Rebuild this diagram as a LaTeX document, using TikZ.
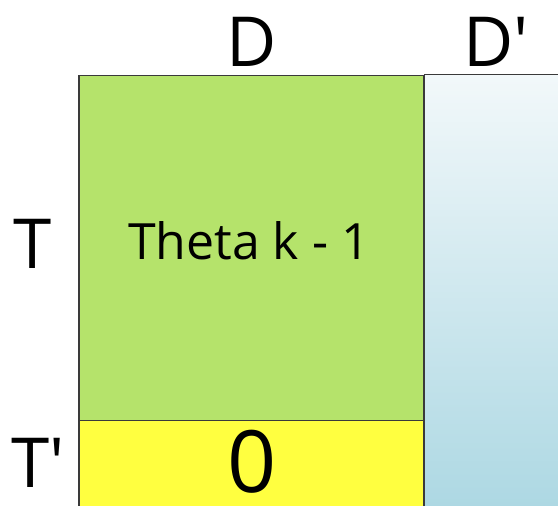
\documentclass[tikz,border=0pt]{standalone}
\usepackage{fontspec}
\setmainfont{Open Sans}
\definecolor{gfill}{HTML}{B5E36B}
\definecolor{yfill}{HTML}{FFFF40}
\definecolor{btop}{HTML}{F2F8FA}
\definecolor{bbot}{HTML}{ADD8E3}
\definecolor{edge}{HTML}{3A3A3A}
\begin{document}
\begin{tikzpicture}[x=1pt,y=-1pt,
  lbl/.style={inner sep=0pt,anchor=center,text=black},
  cell/.style={draw=edge,line width=1.3pt}]
\useasboundingbox (0,0) rectangle (558,506);
\shade[top color=btop,bottom color=bbot] (424,74.5) rectangle (560,508);
\draw[edge,line width=1.3pt] (424,74.5) -- (560,74.5);
\draw[cell,fill=gfill] (79,75.5) rectangle (424,420.5);
\draw[cell,fill=yfill] (79,420.5) rectangle (424,510);
\node[lbl,font=\fontsize{69}{69}\selectfont] (d) at (252,42) {D};
\node[lbl,font=\fontsize{69}{69}\selectfont] (dp) at (496,42) {D\textquotesingle};
\node[lbl,font=\fontsize{69}{69}\selectfont] (t) at (33,244) {T};
\node[lbl,font=\fontsize{69}{69}\selectfont] (tp) at (38,463) {T\textquotesingle};
\node[lbl,font=\fontsize{50}{50}\selectfont] (th) at (249,241) {Theta k - 1};
\node[lbl,font=\fontsize{86}{86}\selectfont] (z) at (252,462) {0};
\end{tikzpicture}
\end{document}
